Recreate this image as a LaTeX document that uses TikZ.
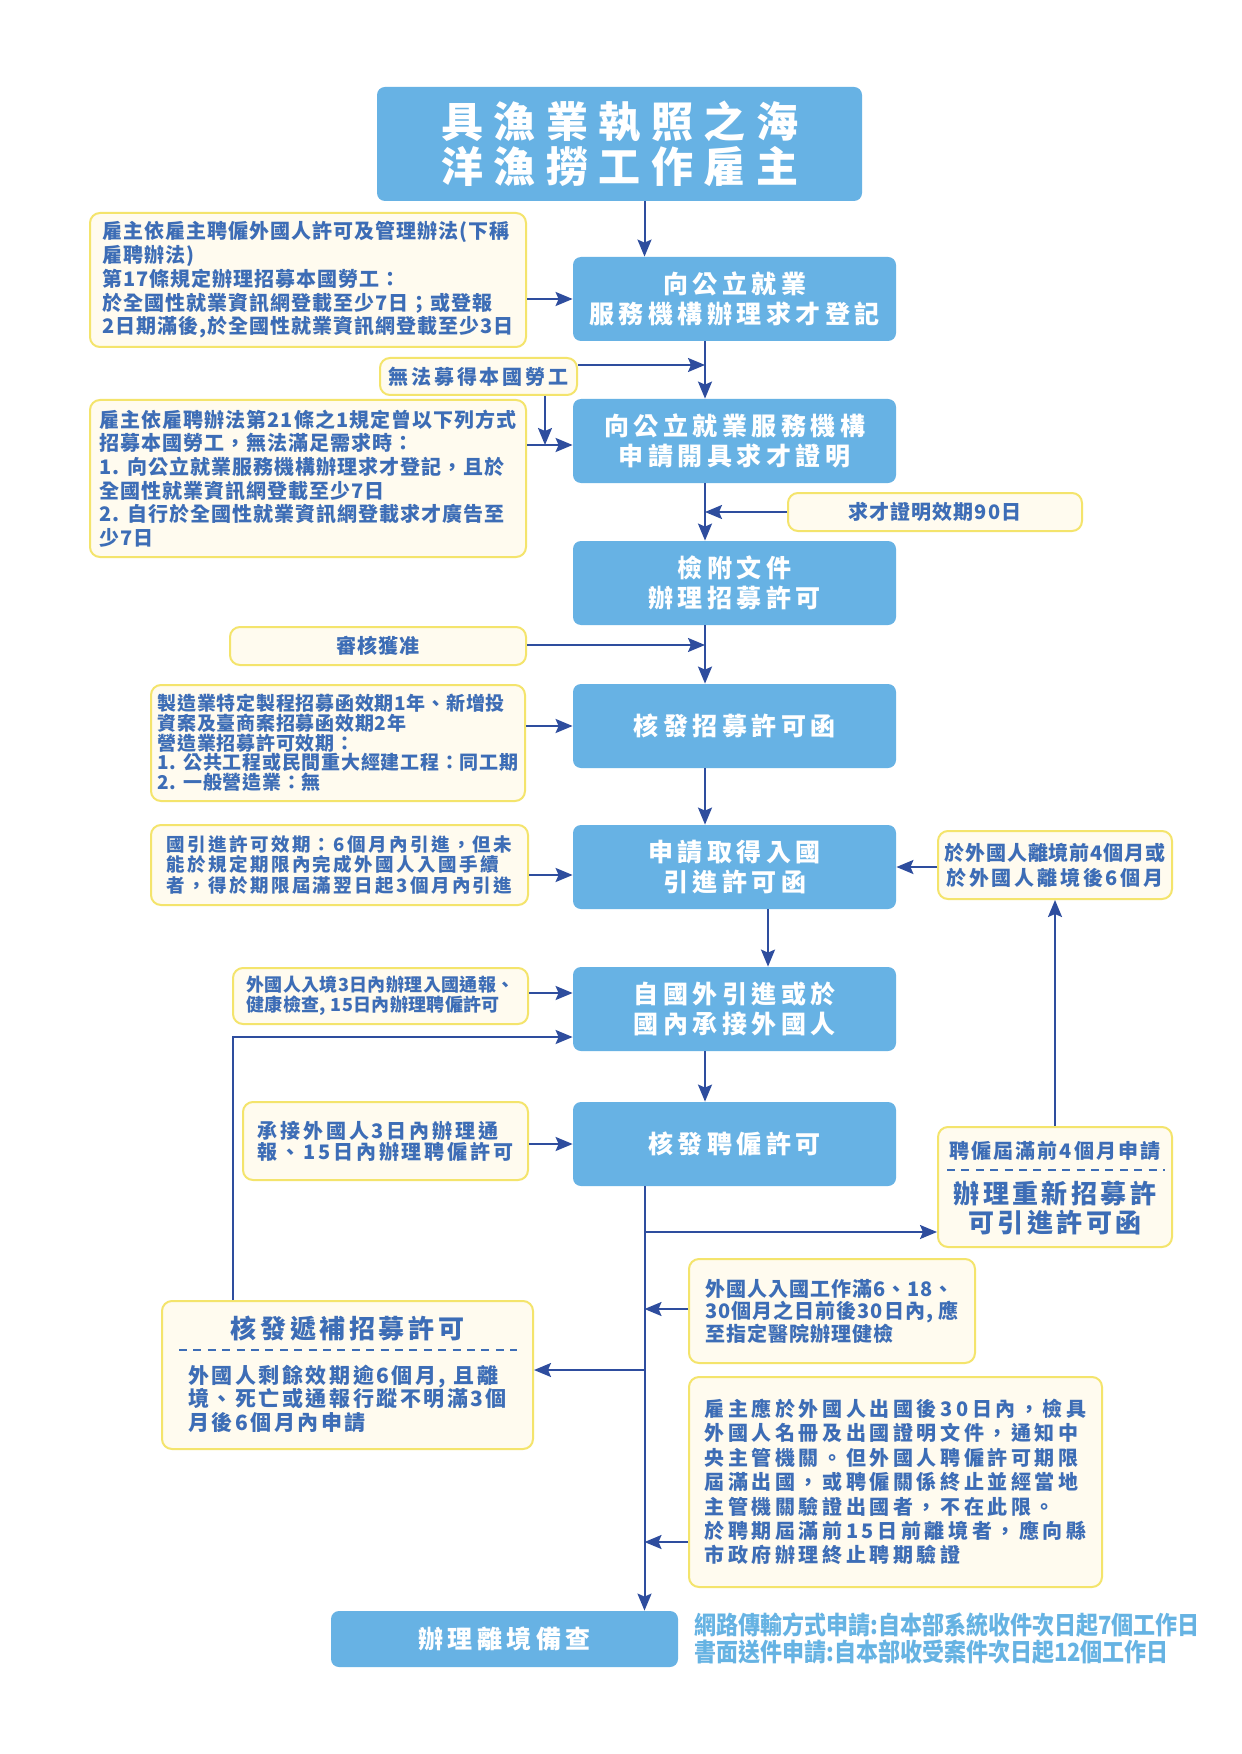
\documentclass[tikz,border=0pt]{standalone}
\usepackage{fontspec}
\setmainfont{Noto Sans CJK TC}
\newfontfamily\condfont{Noto Sans CJK TC}[FakeStretch=0.88]
\usetikzlibrary{arrows.meta}
\definecolor{mainblue}{HTML}{67B2E4}
\definecolor{cream}{HTML}{FFFBEF}
\definecolor{noteyellow}{HTML}{F4E46C}
\definecolor{txtblue}{HTML}{3D6DB6}
\definecolor{arrblue}{HTML}{2E4D9E}
\definecolor{lightblue}{HTML}{66B3E3}
\newcommand{\myfs}[3]{\bfseries\fontsize{#1}{#2}\selectfont\addfontfeature{LetterSpace=#3}}
\begin{document}
\begin{tikzpicture}[x=0.5pt,y=-0.5pt,
  mainbox/.style={fill=mainblue, rounded corners=4pt, text=white, minimum width=161.5pt, minimum height=42pt, align=center, inner sep=0pt, font=\myfs{12.5pt}{15pt}{18}},
  note/.style={fill=cream, draw=noteyellow, line width=1pt, rounded corners=5pt, text=txtblue, inner sep=0pt, align=left},
  notetext/.style={text=txtblue, inner sep=0pt},
  arr/.style={draw=arrblue, line width=1pt, -{Stealth[length=8.5pt,width=7pt,inset=1.5pt]}},
  dashline/.style={draw=txtblue, line width=1pt, dash pattern=on 4pt off 3.2pt}]
\fill[white] (0,0) rectangle (1241,1754);
\useasboundingbox (0,0) rectangle (1241,1754);

% column coordinates
\coordinate (colA) at (644.5,0);
\coordinate (colB) at (705,0);
\coordinate (colC) at (768,0);

% main boxes
\node[mainbox, minimum width=242.5pt, minimum height=57pt, font=\myfs{21pt}{22.5pt}{25}] (title) at (619.5,144) {具漁業執照之海\\洋漁撈工作雇主};
\node[mainbox] (b2) at (734.5,299) {向公立就業\\服務機構辦理求才登記};
\node[mainbox] (b3) at (734.5,441) {向公立就業服務機構\\申請開具求才證明};
\node[mainbox] (b4) at (734.5,583) {檢附文件\\辦理招募許可};
\node[mainbox] (b5) at (734.5,726) {核發招募許可函};
\node[mainbox] (b6) at (734.5,867) {申請取得入國\\引進許可函};
\node[mainbox] (b7) at (734.5,1009) {自國外引進或於\\國內承接外國人};
\node[mainbox] (b8) at (734.5,1144) {核發聘僱許可};
\node[mainbox, minimum width=173.5pt, minimum height=28pt] (b9) at (504.5,1639) {辦理離境備查};

% notes
\node[note, minimum width=218pt, minimum height=67pt, font=\myfs{10pt}{11.85pt}{5}] (n1) at (308,280)
 {雇主依雇主聘僱外國人許可及管理辦法(下稱\\雇聘辦法)\\第17條規定辦理招募本國勞工：\\於全國性就業資訊網登載至少7日；或登報\\2日期滿後,於全國性就業資訊網登載至少3日};
\node[note, minimum width=98.5pt, minimum height=18.5pt, font=\myfs{10pt}{12pt}{14}] (n2) at (478.5,376.5) {無法募得本國勞工};
\node[note, minimum width=218pt, minimum height=78.5pt, font=\myfs{10pt}{11.85pt}{5}] (n3) at (308,478.5)
 {雇主依雇聘辦法第21條之1規定曾以下列方式\\招募本國勞工，無法滿足需求時：\\1. 向公立就業服務機構辦理求才登記，且於\\全國性就業資訊網登載至少7日\\2. 自行於全國性就業資訊網登載求才廣告至\\少7日};
\node[note, minimum width=147pt, minimum height=19pt, font=\myfs{10pt}{12pt}{5}] (n4) at (935,512) {求才證明效期90日};
\node[note, minimum width=148pt, minimum height=19pt, font=\myfs{10pt}{12pt}{5}] (n5) at (378,646) {審核獲准};
\node[note, minimum width=187pt, minimum height=58pt, font=\myfs{9.5pt}{9.85pt}{4}] (n6) at (338,743)
 {製造業特定製程招募函效期1年、新增投\\資案及臺商案招募函效期2年\\營造業招募許可效期：\\1. 公共工程或民間重大經建工程：同工期\\2. 一般營造業：無};
\node[note, minimum width=188.5pt, minimum height=40pt, font=\myfs{9.25pt}{10.4pt}{13}] (n7) at (339.5,865)
 {國引進許可效期：6個月內引進，但未\\能於規定期限內完成外國人入國手續\\者，得於期限屆滿翌日起3個月內引進};
\node[note, minimum width=117pt, minimum height=34pt, align=center, font=\myfs{10pt}{12.5pt}{4}] (n8) at (1055,865)
 {於外國人離境前4個月或\\{\addfontfeature{LetterSpace=14}於外國人離境後6個月}};
\node[note, minimum width=147.5pt, minimum height=28pt, font=\myfs{9pt}{10pt}{2}] (n9) at (380.5,996)
 {外國人入境3日內辦理入國通報、\\健康檢查, 15日內辦理聘僱許可};
\node[note, minimum width=142.5pt, minimum height=39pt, font=\myfs{10pt}{10.5pt}{14}] (n10) at (385.5,1141)
 {承接外國人3日內辦理通\\報、15日內辦理聘僱許可};

\node[note, minimum width=117pt, minimum height=60pt] (n11) at (1055,1187) {};
\node[notetext, font=\myfs{10pt}{12pt}{10}] (n11a) at (1055,1151) {聘僱屆滿前4個月申請};
\draw[dashline] (947,1170) -- (1165,1170);
\node[notetext, align=center, font=\myfs{13pt}{14.2pt}{13}] (n11b) at (1055,1208) {辦理重新招募許\\可引進許可函};

\node[note, minimum width=143pt, minimum height=52pt, font=\myfs{10pt}{11.25pt}{5}] (n12) at (832,1311)
 {外國人入國工作滿6、18、\\30個月之日前後30日內, 應\\至指定醫院辦理健檢};

\node[note, minimum width=185.5pt, minimum height=74pt] (n13) at (347.5,1375) {};
\node[notetext, font=\myfs{13pt}{14pt}{14}] (n13a) at (347.5,1328) {核發遞補招募許可};
\draw[dashline] (179,1350) -- (517,1350);
\node[notetext, anchor=west, align=left, font=\myfs{10.5pt}{11.75pt}{12}] (n13b) at (188,1398.5)
 {外國人剩餘效期逾6個月, 且離\\境、死亡或通報行蹤不明滿3個\\月後6個月內申請};

\node[note, minimum width=206.5pt, minimum height=105pt, font=\myfs{10pt}{12.2pt}{18}] (n14) at (895.5,1482)
 {雇主應於外國人出國後30日內，檢具\\外國人名冊及出國證明文件，通知中\\央主管機關。但外國人聘僱許可期限\\屆滿出國，或聘僱關係終止並經當地\\主管機關驗證出國者，不在此限。\\於聘期屆滿前15日前離境者，應向縣\\市政府辦理終止聘期驗證};

\node[anchor=west, align=left, inner sep=0pt, text=lightblue, font=\condfont\bfseries\fontsize{12.5pt}{13.5pt}\selectfont] (bt) at (694,1638.5)
 {網路傳輸方式申請:自本部系統收件次日起7個工作日\\書面送件申請:自本部收受案件次日起12個工作日};

% junction coordinates
\coordinate (j1) at (705,365);
\coordinate (j2) at (545,445);
\coordinate (j3) at (705,512);
\coordinate (j4) at (705,645);
\coordinate (j5) at (644.5,1232);
\coordinate (j6) at (644.5,1309);
\coordinate (j7) at (644.5,1370);
\coordinate (j8) at (644.5,1542);

% connectors
\draw[arr] (title.south -| colA) -- (b2.north -| colA);
\draw[arr] (n1.east |- b2.west) -- (b2.west);
\draw[arr] (b2.south -| colB) -- (b3.north -| colB);
\draw[arr] (n2.east |- j1) -- (j1);
\draw[arr] (n2.south -| j2) -- (j2);
\draw[arr] (n3.east |- j2) -- (b3.west |- j2);
\draw[arr] (n4.west |- j3) -- (j3);
\draw[arr] (b3.south -| colB) -- (b4.north -| colB);
\draw[arr] (n5.east |- j4) -- (j4);
\draw[arr] (b4.south -| colB) -- (b5.north -| colB);
\draw[arr] (n6.east |- b5.west) -- (b5.west);
\draw[arr] (b5.south -| colB) -- (b6.north -| colB);
\draw[arr] (n7.east |- 0,875) -- (b6.west |- 0,875);
\draw[arr] (n8.west |- b6.east) -- (b6.east);
\draw[arr] (b6.south -| colC) -- (b7.north -| colC);
\draw[arr] (n9.east |- 0,993) -- (b7.west |- 0,993);
\draw[arr] (n13.north -| 233,0) |- (b7.west |- 0,1037);
\draw[arr] (b7.south -| colB) -- (b8.north -| colB);
\draw[arr] (n10.east |- b8.west) -- (b8.west);
\draw[arr] (b8.south -| colA) -- (b9.north -| colA);
\draw[arr] (j5) -- (n11.west |- j5);
\draw[arr] (n11.north) -- (n8.south);
\draw[arr] (n12.west |- j6) -- (j6);
\draw[arr] (j7) -- (n13.east |- j7);
\draw[arr] (n14.west |- j8) -- (j8);
\end{tikzpicture}
\end{document}
